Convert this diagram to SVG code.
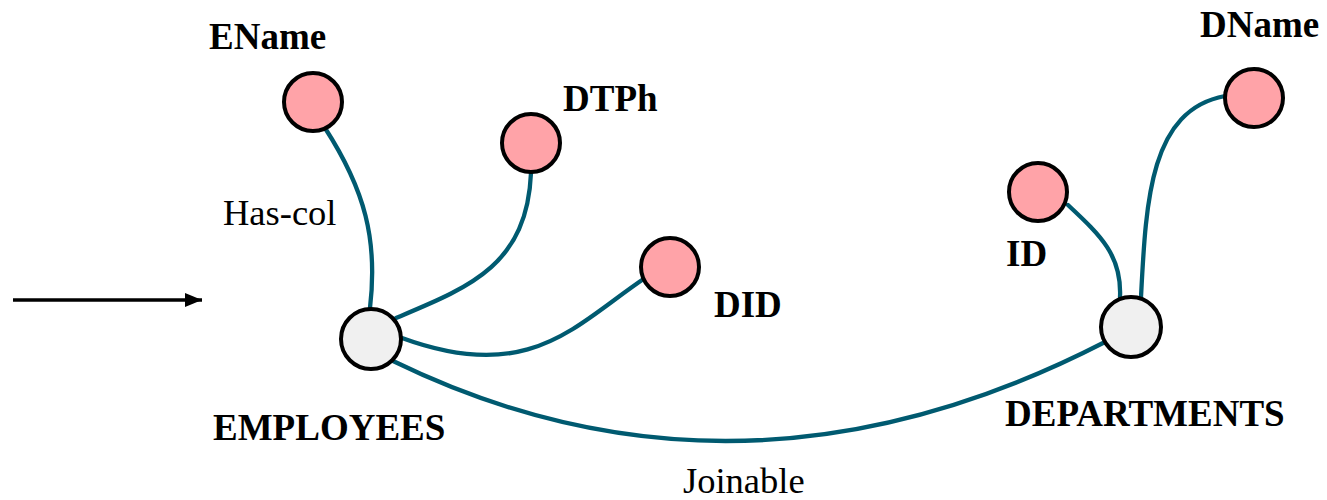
<svg xmlns="http://www.w3.org/2000/svg" width="1327" height="500" viewBox="0 0 1327 500">
  <style>
    .edge { fill: none; stroke: #005a70; stroke-width: 4.3; stroke-linecap: round; }
    .attr { fill: #ffa3a8; stroke: #000; stroke-width: 4; }
    .table { fill: #f0f0f0; stroke: #000; stroke-width: 4; }
    .name { font-family: "Liberation Serif", "Times New Roman", serif; font-weight: bold; font-size: 37px; fill: #000; }
    .rel { font-family: "Liberation Serif", "Times New Roman", serif; font-size: 36.5px; fill: #000; }
  </style>
  <defs>
    <marker id="arrowhead" viewBox="0 0 17 14" refX="17" refY="7" markerWidth="17" markerHeight="14" orient="auto" markerUnits="userSpaceOnUse">
      <path d="M0,0 L17,7 L0,14 z" fill="#000"/>
    </marker>
  </defs>

  <rect width="1327" height="500" fill="#fff"/>

  <!-- input arrow -->
  <line x1="13" y1="300" x2="202" y2="300" stroke="#000" stroke-width="3.5" marker-end="url(#arrowhead)"/>

  <g id="connectors">
    <path class="edge" d="M325,128 C365,190 378,240 370,308"/>
    <path class="edge" d="M531,173 C527,265 470,287 396,318"/>
    <path class="edge" d="M645,278 C575,325 530,385 402,338"/>
    <path class="edge" d="M393,361 Q740,530 1105,342"/>
    <path class="edge" d="M1068,205 C1100,235 1122,255 1120,297"/>
    <path class="edge" d="M1141,297 C1146,200 1150,110 1225,96"/>
  </g>

  <g id="ename">
    <circle class="attr" cx="313" cy="102" r="29"/>
    <text class="name" x="209" y="49">EName</text>
  </g>
  <g id="dtph">
    <circle class="attr" cx="531" cy="143" r="29"/>
    <text class="name" x="563" y="111">DTPh</text>
  </g>
  <g id="did">
    <circle class="attr" cx="670" cy="267" r="29"/>
    <text class="name" x="714" y="317">DID</text>
  </g>
  <g id="employees">
    <circle class="table" cx="371" cy="339" r="30"/>
    <text class="name" x="213" y="440">EMPLOYEES</text>
  </g>
  <g id="id">
    <circle class="attr" cx="1038" cy="192" r="29"/>
    <text class="name" x="1006" y="266">ID</text>
  </g>
  <g id="dname">
    <circle class="attr" cx="1254" cy="98" r="29"/>
    <text class="name" x="1200" y="37">DName</text>
  </g>
  <g id="departments">
    <circle class="table" cx="1131" cy="327" r="30"/>
    <text class="name" x="1005" y="426">DEPARTMENTS</text>
  </g>

  <g id="edge-labels">
    <text class="rel" x="223" y="225">Has-col</text>
    <text class="rel" x="683" y="493">Joinable</text>
  </g>
</svg>
